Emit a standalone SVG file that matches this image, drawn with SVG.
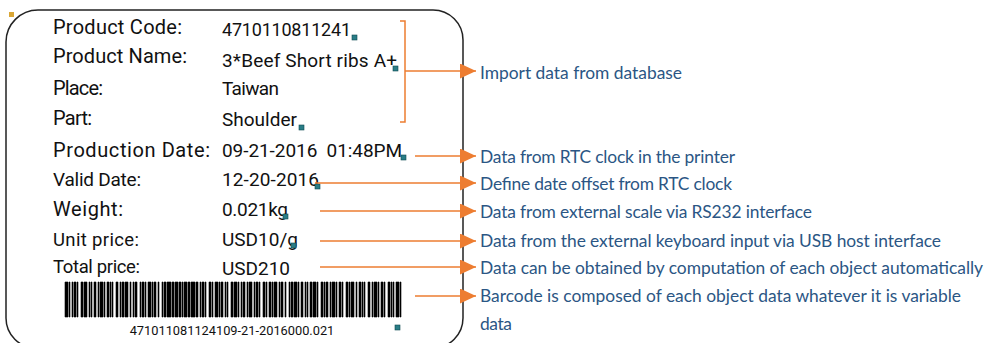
<svg xmlns="http://www.w3.org/2000/svg" width="985" height="343" viewBox="0 0 985 343">
<defs>
<style>
.lbl{font-family:Roboto,"Liberation Sans",sans-serif;font-size:20px;fill:#111}
.sm{font-size:18.5px}
.val{font-family:Roboto,"Liberation Sans",sans-serif;font-size:19px;fill:#111}
.note{font-family:Lato,"Liberation Sans",sans-serif;font-size:17.4px;fill:#2b5684}
.conn{stroke:#ed7d31;stroke-width:1.5;fill:none}
.mk{fill:#2a7d86;stroke:#0f4a50;stroke-width:0.6}
</style>
<marker id="ah" markerWidth="16" markerHeight="15" refX="16" refY="7.5" orient="auto" markerUnits="userSpaceOnUse">
<path d="M0 0L16 7.5L0 15z" fill="#ed7d31"/>
</marker>
</defs>
<rect width="985" height="343" fill="#fff"/>
<g id="label">
<path d="M38 10H433A30 30 0 0 1 463 40V318A30 30 0 0 1 433 348H36A30 30 0 0 1 6 318V42A32 32 0 0 1 38 10Z" fill="none" stroke="#222" stroke-width="1.5"/>
<rect x="9" y="12" width="5" height="5" fill="#d9a636"/>
</g>
<g id="fields">
<text class="lbl" x="53" y="34" textLength="129">Product Code:</text>
<text class="lbl" x="53" y="63" textLength="134">Product Name:</text>
<text class="lbl" x="53" y="95" textLength="50">Place:</text>
<text class="lbl" x="53" y="125" textLength="39">Part:</text>
<text class="lbl" x="53" y="157" textLength="157">Production Date:</text>
<text class="lbl" x="53" y="186" textLength="88" style="font-size:19px">Valid Date:</text>
<text class="lbl" x="53" y="216" textLength="70">Weight:</text>
<text class="lbl sm" x="53" y="246" textLength="86">Unit price:</text>
<text class="lbl sm" x="53" y="273" textLength="87">Total price:</text>
</g>
<g id="values">
<text class="val" x="222" y="36" textLength="129" style="font-size:18px">4710110811241</text>
<text class="val" x="222" y="67" textLength="175">3*Beef Short ribs A+</text>
<text class="val" x="222" y="95" textLength="57">Taiwan</text>
<text class="val" x="222" y="126" textLength="75">Shoulder</text>
<text class="val" x="222" y="157" textLength="180" xml:space="preserve">09-21-2016  01:48PM</text>
<text class="val" x="222" y="186" textLength="97">12-20-2016</text>
<text class="val" x="222" y="216" textLength="66">0.021kg</text>
<text class="val" x="222" y="246" textLength="76">USD10/g</text>
<text class="val" x="222" y="275" textLength="68">USD210</text>
<rect class="mk" x="352" y="35" width="5" height="5"/>
<rect class="mk" x="393" y="66" width="5" height="5"/>
<rect class="mk" x="299" y="125" width="5" height="5"/>
<rect class="mk" x="401" y="155" width="5" height="5"/>
<rect class="mk" x="315" y="184" width="5" height="5"/>
<rect class="mk" x="283" y="214" width="5" height="5"/>
<rect class="mk" x="291" y="243" width="5" height="5"/>
<rect class="mk" x="395" y="325" width="5" height="5"/>
</g>
<g id="barcode">
<path fill="#000" stroke="#000" stroke-width="0.6" d="M65 282h3v35h-3zM69 282h1v35h-1zM72 282h1v35h-1zM74 282h2v35h-2zM77 282h1v35h-1zM81 282h2v35h-2zM84 282h3v35h-3zM89 282h1v35h-1zM91 282h1v35h-1zM94 282h2v35h-2zM98 282h1v35h-1zM100 282h3v35h-3zM104 282h1v35h-1zM107 282h2v35h-2zM110 282h1v35h-1zM112 282h1v35h-1zM116 282h2v35h-2zM120 282h1v35h-1zM122 282h2v35h-2zM125 282h3v35h-3zM130 282h1v35h-1zM133 282h1v35h-1zM135 282h2v35h-2zM140 282h1v35h-1zM142 282h2v35h-2zM145 282h1v35h-1zM148 282h3v35h-3zM152 282h1v35h-1zM154 282h2v35h-2zM158 282h1v35h-1zM162 282h1v35h-1zM164 282h2v35h-2zM167 282h4v35h-4zM172 282h2v35h-2zM175 282h3v35h-3zM179 282h2v35h-2zM182 282h1v35h-1zM184 282h3v35h-3zM188 282h2v35h-2zM191 282h4v35h-4zM196 282h2v35h-2zM200 282h1v35h-1zM202 282h2v35h-2zM205 282h1v35h-1zM209 282h2v35h-2zM212 282h1v35h-1zM215 282h3v35h-3zM219 282h1v35h-1zM221 282h2v35h-2zM225 282h1v35h-1zM227 282h1v35h-1zM231 282h2v35h-2zM234 282h3v35h-3zM238 282h1v35h-1zM241 282h1v35h-1zM243 282h2v35h-2zM247 282h1v35h-1zM249 282h3v35h-3zM254 282h1v35h-1zM256 282h2v35h-2zM259 282h1v35h-1zM263 282h2v35h-2zM266 282h1v35h-1zM269 282h2v35h-2zM272 282h1v35h-1zM274 282h3v35h-3zM279 282h1v35h-1zM281 282h2v35h-2zM285 282h1v35h-1zM289 282h1v35h-1zM291 282h2v35h-2zM294 282h3v35h-3zM298 282h1v35h-1zM301 282h2v35h-2zM305 282h1v35h-1zM307 282h1v35h-1zM310 282h2v35h-2zM313 282h3v35h-3zM317 282h1v35h-1zM321 282h2v35h-2zM324 282h1v35h-1zM326 282h2v35h-2zM330 282h1v35h-1zM332 282h3v35h-3zM336 282h1v35h-1zM339 282h2v35h-2zM342 282h1v35h-1zM346 282h2v35h-2zM349 282h1v35h-1zM351 282h3v35h-3zM356 282h1v35h-1zM359 282h2v35h-2zM362 282h1v35h-1zM364 282h1v35h-1zM368 282h2v35h-2zM372 282h1v35h-1zM374 282h3v35h-3zM378 282h1v35h-1zM381 282h2v35h-2zM384 282h1v35h-1zM388 282h2v35h-2zM391 282h1v35h-1zM393 282h1v35h-1zM396 282h3v35h-3zM400 282h1v35h-1z"/>
<text x="232" y="335" text-anchor="middle" style="font-family:Roboto,'Liberation Sans',sans-serif;font-size:12.8px;fill:#111">471011081124109-21-2016000.021</text>
</g>
<g id="connectors">
<path class="conn" d="M400 21H405V122H400"/>
<path class="conn" d="M405 71H476" marker-end="url(#ah)"/>
<path class="conn" d="M415 156H476" marker-end="url(#ah)"/>
<path class="conn" d="M315 183H476" marker-end="url(#ah)"/>
<path class="conn" d="M320 211H476" marker-end="url(#ah)"/>
<path class="conn" d="M320 241H476" marker-end="url(#ah)"/>
<path class="conn" d="M320 267H476" marker-end="url(#ah)"/>
<path class="conn" d="M415 296H476" marker-end="url(#ah)"/>
</g>
<g id="notes">
<text class="note" x="480" y="79" textLength="202">Import data from database</text>
<text class="note" x="480" y="163" textLength="255">Data from RTC clock in the printer</text>
<text class="note" x="480" y="190" textLength="252">Define date offset from RTC clock</text>
<text class="note" x="480" y="218" textLength="332">Data from external scale via RS232 interface</text>
<text class="note" x="480" y="247" textLength="461">Data from the external keyboard input via USB host interface</text>
<text class="note" x="480" y="274" textLength="503">Data can be obtained by computation of each object automatically</text>
<text class="note" x="480" y="302" textLength="481">Barcode is composed of each object data whatever it is variable</text>
<text class="note" x="480" y="330" textLength="32">data</text>
</g>
</svg>
